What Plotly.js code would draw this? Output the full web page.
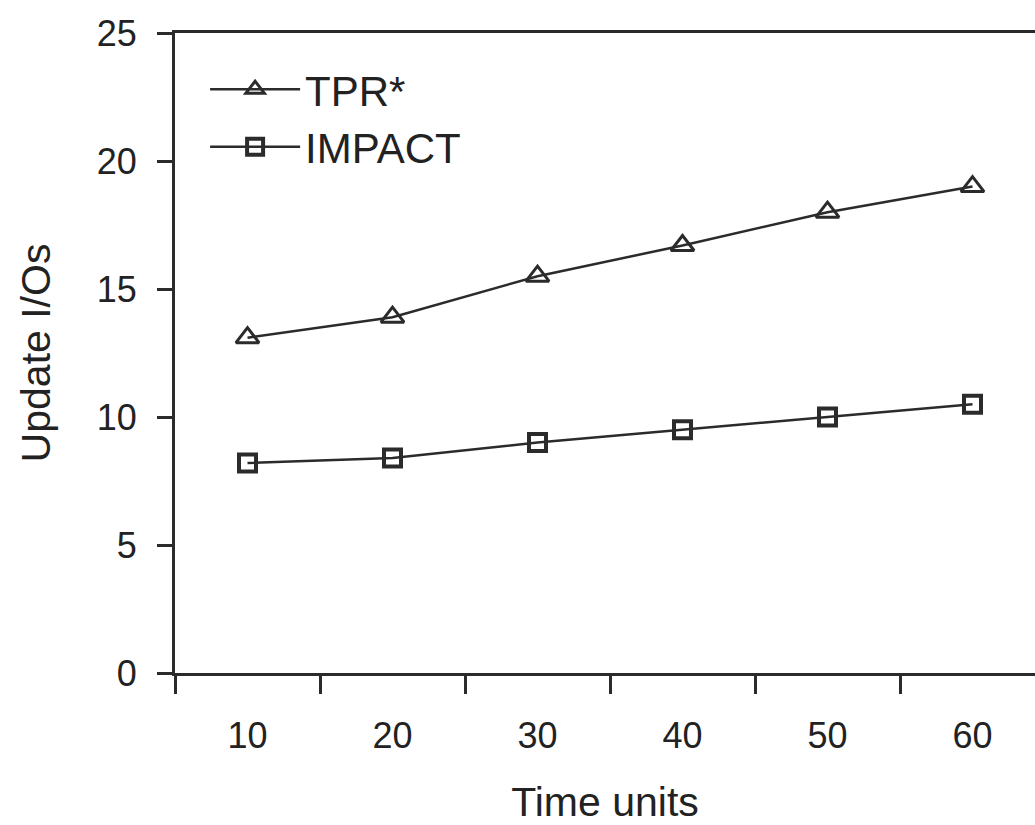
<!DOCTYPE html>
<html>
<head>
<meta charset="utf-8">
<script src="https://cdn.plot.ly/plotly-3.0.1.min.js"></script>
<style>html,body{margin:0;padding:0;background:#fff;overflow:hidden;}</style>
</head>
<body>
<div id="chart" style="width:1035px;height:825px;"></div>
<script>
const timeUnits = ['10', '20', '30', '40', '50', '60'];
const tprValues = [13.1, 13.9, 15.5, 16.7, 18.0, 19.0];
const impactValues = [8.2, 8.4, 9.0, 9.5, 10.0, 10.5];
const seriesNames = ['TPR*', 'IMPACT'];
const yTicks = [0, 5, 10, 15, 20, 25];

const ink = '#2b2b2b';
const fontFam = 'Liberation Sans, Arial, Helvetica, sans-serif';

const traces = [
  {
    x: timeUnits, y: tprValues, name: seriesNames[0], type: 'scatter', mode: 'lines+markers',
    line: {color: ink, width: 2.5},
    marker: {symbol: 'triangle-up-open', size: 20, color: ink, line: {width: 3, color: ink}}
  },
  {
    x: timeUnits, y: impactValues, name: seriesNames[1], type: 'scatter', mode: 'lines+markers',
    line: {color: ink, width: 2.5},
    marker: {symbol: 'square-open', size: 17, color: ink, line: {width: 4, color: ink}}
  }
];

const layout = {
  width: 1035, height: 825,
  margin: {l: 175, r: 0, t: 33, b: 152},
  paper_bgcolor: '#fff', plot_bgcolor: '#fff',
  font: {family: fontFam, color: '#222', size: 36},
  showlegend: true,
  legend: {
    x: 0.035, y: 0.965, xanchor: 'left', yanchor: 'top',
    font: {size: 42, color: '#222'}, bgcolor: 'rgba(0,0,0,0)',
    tracegroupgap: 0, itemwidth: 90
  },
  xaxis: {
    type: 'category', range: [-0.5, 5.431],
    tickson: 'boundaries', ticks: 'outside', ticklen: 18, tickwidth: 3, tickcolor: ink,
    showline: true, linewidth: 3, linecolor: ink, mirror: true,
    showgrid: false, zeroline: false,
    tickfont: {size: 36, color: '#222'}, ticklabelstandoff: 29,
    title: {text: 'Time units', font: {size: 41, color: '#222'}, standoff: 36}
  },
  yaxis: {
    range: [0, 25], tickvals: yTicks, ticktext: yTicks.map(String),
    ticks: 'outside', ticklen: 15, tickwidth: 3, tickcolor: ink,
    showline: true, linewidth: 3, linecolor: ink, mirror: false,
    showgrid: false, zeroline: false,
    tickfont: {size: 36, color: '#222'}, ticklabelstandoff: 13,
    title: {text: 'Update I/Os', font: {size: 41, color: '#222'}, standoff: 34}
  }
};

Plotly.newPlot('chart', traces, layout, {displayModeBar: false, staticPlot: true});
</script>
</body>
</html>
